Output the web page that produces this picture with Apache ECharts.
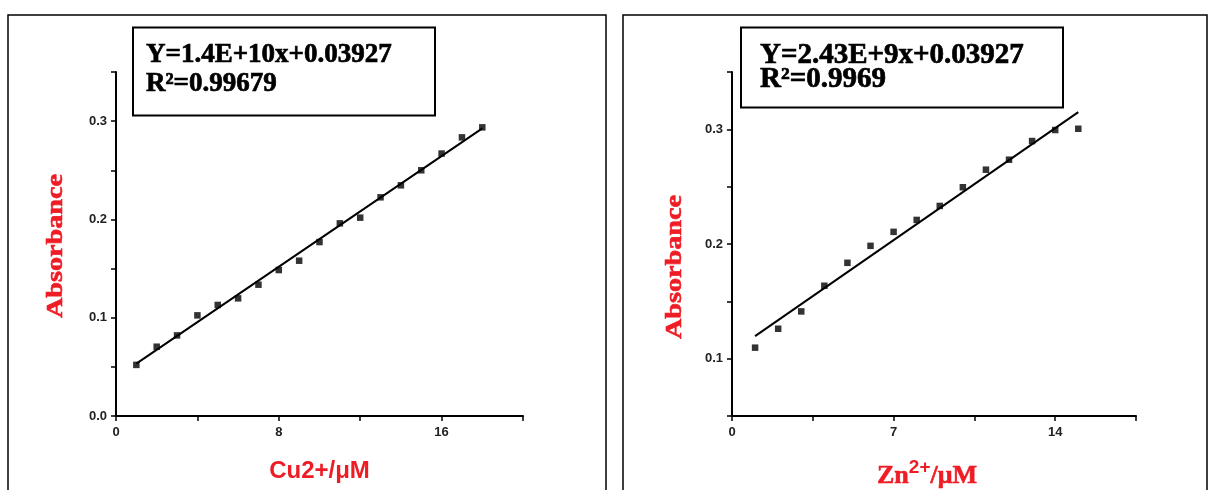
<!DOCTYPE html>
<html>
<head>
<meta charset="utf-8">
<script src="https://cdn.jsdelivr.net/npm/echarts@6/dist/echarts.min.js"></script>
<style>
html,body{margin:0;padding:0;background:#fff;}
#chart{width:1210px;height:490px;}
</style>
</head>
<body>
<div id="chart"></div>
<script>
// ---- data ----
const cuX = [1,2,3,4,5,6,7,8,9,10,11,12,13,14,15,16,17,18];
const cuY = [0.052,0.0705,0.082,0.1024,0.113,0.1197,0.1336,0.1485,0.158,0.177,0.196,0.2018,0.2225,0.2347,0.250,0.267,0.2835,0.2937];
const cuFitX = [1, 18];
const cuFitY = [0.0533, 0.2927];

const znX = [1,2,3,4,5,6,7,8,9,10,11,12,13,14,15];
const znY = [0.1096,0.1261,0.1412,0.1636,0.1836,0.1984,0.2106,0.221,0.2332,0.2495,0.2648,0.2735,0.2898,0.2994,0.3005];
const znFitX = [1, 15];
const znFitY = [0.1197, 0.3150];

const cuEquation = ['Y=1.4E+10x+0.03927', 'R\u00B2=0.99679'];
const znEquation = ['Y=2.43E+9x+0.03927', 'R\u00B2=0.9969'];

const cuXName = 'Cu2+/\u03BCM';
const yName = 'Absorbance';

// ---- helpers ----
const pairs = (xs, ys) => xs.map((x, i) => [x, ys[i]]);
const RED = '#ee1c25';
const tickFont = {fontFamily: 'Liberation Sans', fontWeight: 'bold', fontSize: 13, color: '#222'};
const axisLine = {show: true, onZero: false, lineStyle: {color: '#000', width: 2}};
const axisTick = {show: true, inside: false, length: 5, lineStyle: {color: '#000', width: 1.5}};
const isMult = (v, step) => Math.abs(v / step - Math.round(v / step)) < 1e-6;

const eqText = (x, y, text, size) => ({
  type: 'text', x: x, y: y, z: 11,
  style: {text: text, fontFamily: 'Liberation Serif', fontWeight: 'bold', fontSize: size,
          fill: '#000', stroke: '#000', lineWidth: 0.7, align: 'left', verticalAlign: 'middle'}
});
const yTitle = (x, y) => ({
  type: 'text', x: x, y: y, z: 11, rotation: Math.PI / 2, scaleX: 1.2, scaleY: 1,
  style: {text: yName, fontFamily: 'Liberation Serif', fontWeight: 'bold', fontSize: 23.5,
          fill: RED, stroke: RED, lineWidth: 0.6, align: 'center', verticalAlign: 'middle'}
});

const chart = echarts.init(document.getElementById('chart'), null, {renderer: 'canvas'});

const option = {
  backgroundColor: '#fff',
  animation: false,
  grid: [
    {left: 116, top: 72, width: 407, height: 344, containLabel: false, outerBoundsMode: 'none'},
    {left: 732, top: 72, width: 404, height: 344, containLabel: false, outerBoundsMode: 'none'}
  ],
  xAxis: [
    {
      type: 'value', gridIndex: 0, min: 0, max: 20, interval: 4,
      axisLine: axisLine, axisTick: axisTick, splitLine: {show: false},
      axisLabel: Object.assign({margin: 10, formatter: v => isMult(v, 8) ? String(v) : ''}, tickFont),
      name: cuXName, nameLocation: 'middle', nameGap: 43,
      nameTextStyle: {fontFamily: 'Liberation Sans', fontWeight: 'bold', fontSize: 24, color: RED}
    },
    {
      type: 'value', gridIndex: 1, min: 0, max: 17.5, interval: 3.5,
      axisLine: axisLine, axisTick: axisTick, splitLine: {show: false},
      axisLabel: Object.assign({margin: 10, formatter: v => isMult(v, 7) ? String(v) : ''}, tickFont),
      name: '{t|Zn}{s|2+}{t|/\u03BCM}', nameLocation: 'middle', nameGap: 42,
      nameTextStyle: {
        padding: [0, 14, 0, 0],
        rich: {
          t: {fontFamily: 'Liberation Serif', fontWeight: 'bold', fontSize: 26, color: RED, verticalAlign: 'bottom', textBorderColor: RED, textBorderWidth: 0.6},
          s: {fontFamily: 'Liberation Sans', fontWeight: 'bold', fontSize: 19, color: RED, verticalAlign: 'bottom', padding: [0, 0, 12, 0]}
        }
      }
    }
  ],
  yAxis: [
    {
      type: 'value', gridIndex: 0, min: 0, max: 0.35, interval: 0.05,
      axisLine: axisLine, axisTick: axisTick, splitLine: {show: false},
      axisLabel: Object.assign({margin: 9, formatter: v => isMult(v, 0.1) ? v.toFixed(1) : ''}, tickFont)
    },
    {
      type: 'value', gridIndex: 1, min: 0.05, max: 0.35, interval: 0.05,
      axisLine: axisLine, axisTick: axisTick, splitLine: {show: false},
      axisLabel: Object.assign({margin: 9, formatter: v => isMult(v, 0.1) ? v.toFixed(1) : ''}, tickFont)
    }
  ],
  series: [
    {
      type: 'line', xAxisIndex: 0, yAxisIndex: 0, data: pairs(cuFitX, cuFitY),
      showSymbol: false, lineStyle: {color: '#000', width: 2}, z: 2, silent: true
    },
    {
      type: 'scatter', xAxisIndex: 0, yAxisIndex: 0, data: pairs(cuX, cuY),
      symbol: 'rect', symbolSize: 6.5, itemStyle: {color: '#000'}, z: 3
    },
    {
      type: 'line', xAxisIndex: 1, yAxisIndex: 1, data: pairs(znFitX, znFitY),
      showSymbol: false, lineStyle: {color: '#000', width: 2}, z: 2, silent: true
    },
    {
      type: 'scatter', xAxisIndex: 1, yAxisIndex: 1, data: pairs(znX, znY),
      symbol: 'rect', symbolSize: 6.5, itemStyle: {color: '#000'}, z: 3
    }
  ],
  graphic: [
    // panel frames
    {type: 'rect', shape: {x: 8, y: 15, width: 598, height: 500}, style: {fill: 'none', stroke: '#000', lineWidth: 1.5}, z: 0},
    {type: 'rect', shape: {x: 623, y: 15, width: 584, height: 500}, style: {fill: 'none', stroke: '#000', lineWidth: 1.5}, z: 0},
    // equation boxes
    {type: 'rect', shape: {x: 133, y: 27.5, width: 302, height: 88}, style: {fill: '#fff', stroke: '#000', lineWidth: 2}, z: 10},
    {type: 'rect', shape: {x: 741, y: 27.5, width: 322, height: 80}, style: {fill: '#fff', stroke: '#000', lineWidth: 2}, z: 10},
    eqText(146, 55, cuEquation[0], 27),
    eqText(146, 84.5, cuEquation[1], 27),
    eqText(760, 56, znEquation[0], 29),
    eqText(760, 80, znEquation[1], 29),
    // y-axis titles
    yTitle(56, 246),
    yTitle(675, 267)
  ]
};

chart.setOption(option);
</script>
</body>
</html>
